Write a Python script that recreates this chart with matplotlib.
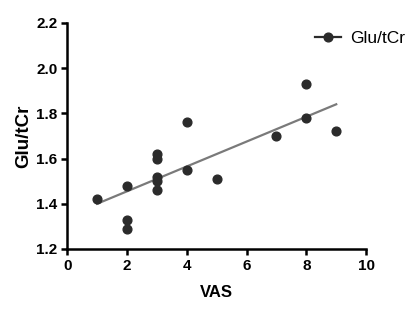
import numpy as np
import matplotlib
matplotlib.use("Agg")
import matplotlib.pyplot as plt
from matplotlib.lines import Line2D

vas = [1, 2, 2, 2, 3, 3, 3, 3, 3, 4, 4, 5, 7, 8, 8, 9]
glu = [1.42, 1.48, 1.33, 1.29, 1.62, 1.60, 1.52, 1.50, 1.46, 1.76, 1.55, 1.51, 1.70, 1.93, 1.78, 1.72]
fit_x = [1, 9]
fit_y = [1.40, 1.84]

x_ticks = [0, 2, 4, 6, 8, 10]
y_ticks = [1.2, 1.4, 1.6, 1.8, 2.0, 2.2]

plt.rcParams['font.family'] = ['Liberation Sans', 'DejaVu Sans']

fig = plt.figure(figsize=(4.17, 3.18), dpi=100)
ax = fig.add_axes([0.161, 0.217, 0.717, 0.711])

ax.plot(fit_x, fit_y, color='#7a7a7a', lw=1.6, zorder=2)
ax.plot(vas, glu, 'o', color='#2b2b2b', ms=6.3, zorder=3)

h = Line2D([], [], color='#2b2b2b', marker='o', ms=6.3, lw=1.6)
leg = ax.legend([h], ['Glu/tCr'], loc='center left', bbox_to_anchor=(0.83, 0.93),
                frameon=False, fontsize=12.5, handlelength=1.5, handletextpad=0.5,
                borderaxespad=0, borderpad=0)

ax.set_xlim(0, 10)
ax.set_ylim(1.2, 2.2)
ax.set_xticks(x_ticks)
ax.set_yticks(y_ticks)
ax.set_xticklabels([str(t) for t in x_ticks], fontweight='bold', fontsize=11)
ax.set_yticklabels([f"{t:.1f}" for t in y_ticks], fontweight='bold', fontsize=11)
for s in ['top', 'right']:
    ax.spines[s].set_visible(False)
for s in ['left', 'bottom']:
    ax.spines[s].set_linewidth(1.8)
ax.tick_params(direction='out', width=1.8, length=4, pad=3)
ax.set_xlabel('VAS', fontweight='bold', fontsize=12, labelpad=9)
ax.set_ylabel('Glu/tCr', fontweight='bold', fontsize=13.5, labelpad=3)

fig.savefig('out.png', dpi=100)
